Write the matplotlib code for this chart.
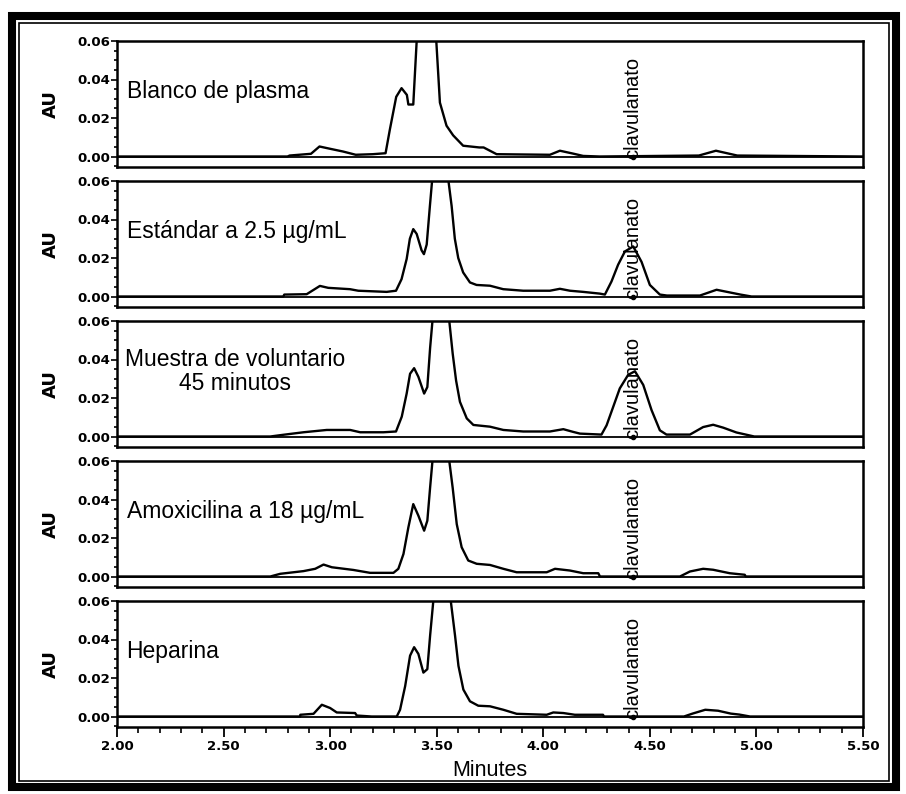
import matplotlib.pyplot as plt
from matplotlib.patches import Rectangle
from matplotlib.ticker import MultipleLocator, FormatStrFormatter

# chromatograms (minutes, AU); main peak is off-scale
t_blanco = [2.00, 2.62, 2.80, 2.81, 2.91, 2.95, 3.00, 3.06, 3.12, 3.20, 3.26, 3.28,
            3.31, 3.335, 3.36, 3.367, 3.39, 3.406, 3.452, 3.498, 3.515, 3.546, 3.577,
            3.624, 3.70, 3.72, 3.781, 4.031, 4.078, 4.14, 4.187, 4.265, 4.73, 4.81,
            4.91, 5.50]
au_blanco = [0.0, 0.0, 0.0, 0.0005, 0.0014, 0.0052, 0.004, 0.0026, 0.0009, 0.0012,
             0.0017, 0.0139, 0.031, 0.0355, 0.032, 0.027, 0.027, 0.06, 0.3, 0.06,
             0.028, 0.016, 0.011, 0.0056, 0.0047, 0.0047, 0.0012, 0.0009, 0.003,
             0.0015, 0.0003, 0.0, 0.0005, 0.003, 0.0005, 0.0]

t_estandar = [2.00, 2.78, 2.785, 2.89, 2.952, 2.991, 3.093, 3.132, 3.265, 3.309, 3.335,
              3.359, 3.374, 3.390, 3.406, 3.429, 3.440, 3.453, 3.468, 3.479, 3.517,
              3.554, 3.570, 3.585, 3.601, 3.624, 3.656, 3.687, 3.750, 3.812, 3.906,
              4.031, 4.078, 4.125, 4.187, 4.265, 4.289, 4.320, 4.351, 4.383, 4.422,
              4.461, 4.500, 4.547, 4.58, 4.735, 4.813, 4.925, 4.977, 5.50]
au_estandar = [0.0, 0.0, 0.001, 0.0012, 0.0055, 0.0045, 0.0038, 0.003, 0.0024, 0.003,
               0.009, 0.0195, 0.030, 0.035, 0.0325, 0.024, 0.022, 0.027, 0.047, 0.061,
               0.3, 0.061, 0.047, 0.030, 0.020, 0.0125, 0.0073, 0.006, 0.0056, 0.0038,
               0.003, 0.003, 0.004, 0.003, 0.0024, 0.0015, 0.001, 0.0078, 0.0165,
               0.0234, 0.026, 0.018, 0.006, 0.001, 0.0005, 0.0005, 0.0035, 0.001, 0.0,
               0.0]

t_muestra = [2.00, 2.719, 2.781, 2.875, 2.984, 3.094, 3.141, 3.25, 3.309, 3.336, 3.359,
             3.375, 3.394, 3.414, 3.441, 3.456, 3.469, 3.48, 3.52, 3.559, 3.575, 3.591,
             3.609, 3.641, 3.672, 3.75, 3.8125, 3.906, 4.031, 4.094, 4.14, 4.172, 4.273,
             4.297, 4.328, 4.359, 4.398, 4.43, 4.469, 4.508, 4.547, 4.578, 4.688, 4.75,
             4.797, 4.844, 4.906, 4.99, 5.50]
au_muestra = [0.0, 0.0, 0.0009, 0.0022, 0.0034, 0.0034, 0.0022, 0.0022, 0.0026, 0.0103,
              0.0223, 0.0326, 0.0355, 0.031, 0.0223, 0.0257, 0.046, 0.06, 0.3, 0.06,
              0.043, 0.029, 0.018, 0.0094, 0.006, 0.0051, 0.0034, 0.0026, 0.0026,
              0.0038, 0.0024, 0.0015, 0.001, 0.0058, 0.0154, 0.025, 0.032, 0.0339,
              0.0268, 0.0137, 0.0032, 0.001, 0.001, 0.0049, 0.0061, 0.0046, 0.0021,
              0.0, 0.0]

t_amoxi = [2.00, 2.719, 2.766, 2.875, 2.93, 2.969, 3.008, 3.109, 3.1875, 3.297, 3.32,
           3.344, 3.367, 3.39, 3.414, 3.441, 3.456, 3.469, 3.48, 3.52, 3.559, 3.575,
           3.594, 3.617, 3.648, 3.6875, 3.75, 3.8125, 3.875, 4.016, 4.055, 4.125,
           4.1875, 4.258, 4.266, 4.641, 4.688, 4.75, 4.797, 4.875, 4.945, 4.95, 5.50]
au_amoxi = [0.0, 0.0, 0.0014, 0.0028, 0.004, 0.0062, 0.0048, 0.0034, 0.0019, 0.0019,
            0.004, 0.0117, 0.0255, 0.0376, 0.0316, 0.0238, 0.029, 0.0462, 0.06, 0.3,
            0.06, 0.046, 0.0272, 0.0152, 0.0083, 0.0066, 0.006, 0.004, 0.0022, 0.0022,
            0.004, 0.0031, 0.0017, 0.0017, 0.0, 0.0, 0.0026, 0.004, 0.0035, 0.0017,
            0.0009, 0.0, 0.0]

t_heparina = [2.00, 2.859, 2.86, 2.922, 2.961, 3.0, 3.031, 3.117, 3.125, 3.195, 3.3125,
              3.328, 3.352, 3.375, 3.394, 3.414, 3.4375, 3.456, 3.469, 3.484, 3.525,
              3.566, 3.586, 3.602, 3.625, 3.656, 3.695, 3.75, 3.8125, 3.875, 4.016,
              4.047, 4.094, 4.148, 4.28, 4.285, 4.66, 4.70, 4.76, 4.82, 4.88, 4.92,
              4.97, 5.50]
au_heparina = [0.0, 0.0, 0.0009, 0.0014, 0.0061, 0.0044, 0.0021, 0.0018, 0.0005, 0.0,
               0.0, 0.0035, 0.0158, 0.0316, 0.036, 0.0325, 0.0228, 0.0246, 0.042, 0.06,
               0.3, 0.06, 0.042, 0.0263, 0.014, 0.0079, 0.0056, 0.0053, 0.0035, 0.0014,
               0.0009, 0.0021, 0.0018, 0.0009, 0.0009, 0.0, 0.0, 0.0015, 0.0035, 0.003,
               0.0015, 0.001, 0.0, 0.0]

labels = ["Blanco de plasma", "Estándar a 2.5 µg/mL",
          "Muestra de voluntario\n45 minutos", "Amoxicilina a 18 µg/mL", "Heparina"]
traces = [(t_blanco, au_blanco), (t_estandar, au_estandar), (t_muestra, au_muestra),
          (t_amoxi, au_amoxi), (t_heparina, au_heparina)]
clav_rt = 4.42
x_ticks = [2.00, 2.50, 3.00, 3.50, 4.00, 4.50, 5.00, 5.50]
y_ticks = [0.00, 0.02, 0.04, 0.06]

W, H = 906, 794
fig = plt.figure(figsize=(W / 100, H / 100), dpi=100)

# double frame around the whole figure
fig.patches.append(Rectangle((12 / W, 1 - 787 / H), 884 / W, 771 / H, transform=fig.transFigure,
                             fill=False, lw=5.8, ec="black"))
fig.patches.append(Rectangle((18.5 / W, 1 - 780.5 / H), 870 / W, 758 / H, transform=fig.transFigure,
                             fill=False, lw=1.2, ec="black"))

left, right = 117, 863
panel_tops = [41, 181, 321, 461, 601]
ph = 126
ymin = -0.06 * 10.5 / 115.5

tick_font = dict(family="DejaVu Sans", weight="bold", size=9.5)

for i, (top, (t, au), lab) in enumerate(zip(panel_tops, traces, labels)):
    ax = fig.add_axes([left / W, 1 - (top + ph) / H, (right - left) / W, ph / H])
    ax.axhline(0, color="black", lw=1.3)
    ax.plot(t, au, color="black", lw=1.7)
    ax.plot([clav_rt], [0], "o", color="black", ms=3)
    ax.text(clav_rt, -0.0012, "clavulanato", rotation=90, ha="center", va="bottom",
            fontsize=14.5, family="Liberation Sans")
    if "\n" in lab:
        ax.text(2.555, 0.034, lab, ha="center", va="center", fontsize=16.5,
                family="Liberation Sans", linespacing=1.05)
    else:
        ax.text(2.045, 0.034, lab, ha="left", va="center", fontsize=16.5,
                family="Liberation Sans")

    ax.set_xlim(2.0, 5.5)
    ax.set_ylim(ymin, 0.06)
    ax.set_yticks(y_ticks)
    ax.yaxis.set_major_formatter(FormatStrFormatter("%.2f"))
    ax.yaxis.set_minor_locator(MultipleLocator(0.005))
    ax.tick_params(axis="y", which="major", direction="out", length=4, width=1.2, pad=1)
    ax.tick_params(axis="y", which="minor", direction="out", length=2, width=1.2)
    for lbl in ax.get_yticklabels():
        lbl.set(**tick_font)
    for s in ax.spines.values():
        s.set_linewidth(1.8)

    ax.set_ylabel("AU", family="DejaVu Sans", weight="bold", fontsize=13)
    ax.yaxis.set_label_coords(-(left - 60) / (right - left), 0.5)

    if i < len(panel_tops) - 1:
        ax.set_xticks([])
    else:
        ax.set_xticks(x_ticks)
        ax.xaxis.set_major_formatter(FormatStrFormatter("%.2f"))
        ax.xaxis.set_minor_locator(MultipleLocator(0.1))
        ax.tick_params(axis="x", which="major", direction="out", length=7, width=1.3, pad=2)
        ax.tick_params(axis="x", which="minor", direction="out", length=4, width=1.2)
        for lbl in ax.get_xticklabels():
            lbl.set(**tick_font)

fig.text((left + right) / 2 / W, 1 - 770 / H, "Minutes", ha="center", va="center",
         fontsize=15.5, family="Liberation Sans")

plt.savefig("out.png", dpi=100)
